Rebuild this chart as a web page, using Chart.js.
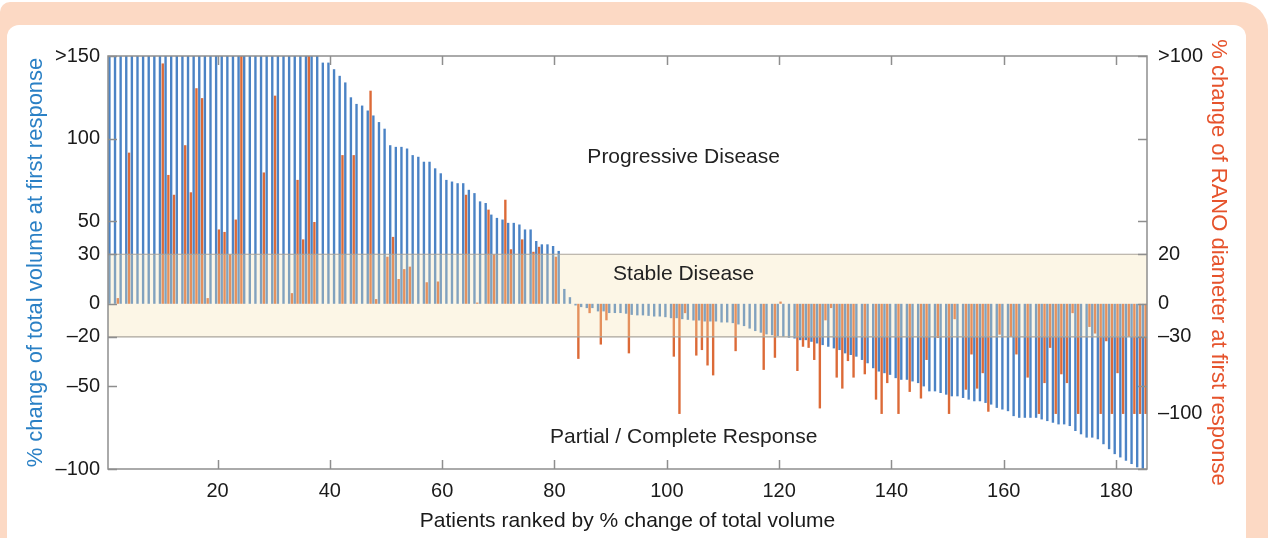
<!DOCTYPE html>
<html>
<head>
<meta charset="utf-8">
<script src="https://cdn.jsdelivr.net/npm/chart.js@4.4.1/dist/chart.umd.min.js"></script>
<style>
  html, body { margin: 0; padding: 0; background: #fff; }
  #page { position: relative; width: 1273px; height: 538px; overflow: hidden; }
  #frame { position: absolute; left: 0; top: 2px; width: 1268px; height: 600px; background: #fcd9c4; border-radius: 10px 28px 0 0; }
  #panel { position: absolute; left: 7px; top: 25px; width: 1239px; height: 600px; background: #fff; border-radius: 12px 12px 0 0; }
  canvas { position: absolute; left: 0; top: 0; }
</style>
</head>
<body>
<div id="page">
  <div id="frame"></div>
  <div id="panel"></div>
  <canvas id="waterfall" width="1273" height="538"></canvas>
</div>
<script>
// patients ranked 1..185 along the x axis
const patients = [];
for (let i = 1; i <= 185; i++) patients.push(i);

const xTicks = [20, 40, 60, 80, 100, 120, 140, 160, 180];
const volumeTicks = [-100, -50, -20, 0, 30, 50, 100, 150];
const ranoTicks = [-100, -30, 0, 20, 100];

// RANO thresholds are lined up with the volume thresholds (piecewise)
const ranoKnots = [-150, -30, 0, 20, 100];
const volumeKnots = [-100, -20, 0, 30, 150];

const stableUpper = 30;
const stableLower = -20;

// % change of total volume (left axis), 150 = ">150"
const volumeChange = [
  150, 150, 150, 150, 150, 150, 150, 150, 150, 150,
  150, 150, 150, 150, 150, 150, 150, 150, 150, 150,
  150, 150, 150, 150, 150, 150, 150, 150, 150, 150,
  150, 150, 150, 150, 150, 150, 150, 150, 146, 146,
  142, 138, 134, 125, 121, 120, 117, 114, 110, 106,
  96, 95, 95, 94, 90, 89, 86, 86, 82, 79,
  75, 74, 73, 73, 69, 67, 62, 61, 54, 52,
  51, 49, 49, 48, 45, 45, 38, 36, 36, 35,
  32, 9, 4, -1, -2, -2.6, -2.6, -4.6, -4.6, -5.6,
  -5.6, -5.6, -6, -6.7, -7, -7, -7.3, -7.7, -7.7, -8.1,
  -8.7, -8.7, -9.3, -9.7, -10.1, -10.1, -10.7, -10.7, -10.7, -11.3,
  -11.3, -11.7, -12.5, -13.5, -15, -16.5, -17.5, -18.5, -19, -19.5,
  -20, -20.5, -21, -22, -22, -23, -24, -25, -26, -27,
  -28, -30, -31, -32, -34, -36, -39, -41, -42, -43,
  -45, -46, -46, -47, -48, -50, -53, -53, -54, -55,
  -56, -56, -57, -58, -59, -59, -60, -61, -63, -64,
  -65, -68, -69, -69, -69, -69, -70, -71, -72, -73,
  -73, -74, -77, -79, -81, -81, -82, -85, -88, -91,
  -93, -95, -97, -99, -100
];

// % change of RANO diameter (right axis), 100 = ">100"
const ranoChange = [
  0, 2.3, 0, 61, 0, 0, 0, 0, 0, 97,
  52, 44, 0, 64, 45, 87, 83, 2.3, 0, 30,
  29, 20, 34, 100, 0, 0, 0, 53, 0, 84,
  0, 0, 4.3, 50, 26, 100, 33, 0, 0, 0,
  0, 60, 0, 60, 0, 0, 86, 1.9, 0, 19,
  27, 10, 14, 15, 0, 0, 8.7, 0, 9, 0,
  0, 0, 0, 44, 0, 0.5, 0, 38, 20, 0,
  42, 22, 0, 26, 0, 21, 23, 0, 0, 19,
  0, 0, 0, -50, 0, -8.5, 0, -37, -15, 0,
  0, 0, -45, 0, 0, 0, 0, 0, 0, 0,
  -48, -100, -8.5, 0, -47, -42, -56, -65, 0, 0,
  0, -43, 0, 0, 0, 0, -60, 0, -49, 0.9,
  0, 0, -61, -39, -40, -51, -95, -15, -3.9, -67,
  -77, -52, -67, 0, -64, 0, -87, -100, -72, 0,
  -100, 0, -80, 0, -86, -51, 0, -31, 0, -100,
  -14, 0, -78, -46, -77, -63, -98, 0, -28, 0,
  -30, -46, 0, -67, 0, -100, -72, -40, -100, -64,
  -72, -8.5, -100, 0, -21, -27, -100, -34, -100, -63,
  -100, -30, -100, -100, -100
];

const regions = [
  { text: 'Progressive Disease', patient: 103, value: 89 },
  { text: 'Stable Disease', patient: 103, value: 18 },
  { text: 'Partial / Complete Response', patient: 103, value: -81 }
];

function interp(v, xs, ys) {
  for (let i = 1; i < xs.length; i++) {
    if (v <= xs[i] || i === xs.length - 1) {
      const t = (v - xs[i - 1]) / (xs[i] - xs[i - 1]);
      return ys[i - 1] + t * (ys[i] - ys[i - 1]);
    }
  }
}

// right axis: linear pieces between the matched thresholds
class RanoScale extends Chart.LinearScale {
  getPixelForValue(value) {
    if (value === null || isNaN(value)) return NaN;
    const vol = interp(value, ranoKnots, volumeKnots);
    const lo = volumeKnots[0], hi = volumeKnots[volumeKnots.length - 1];
    return this.getPixelForDecimal((vol - lo) / (hi - lo));
  }
  getValueForPixel(pixel) {
    const lo = volumeKnots[0], hi = volumeKnots[volumeKnots.length - 1];
    return interp(lo + this.getDecimalForPixel(pixel) * (hi - lo), volumeKnots, ranoKnots);
  }
}
RanoScale.id = 'rano';
Chart.register(RanoScale);

Chart.defaults.font.family = '"Liberation Sans", Arial, sans-serif';
Chart.defaults.color = '#1a1a1a';

const tickLabel = (v, top) => v === top ? '>' + v : (v < 0 ? '\u2013' + Math.abs(v) : String(v));

const overlay = {
  id: 'overlay',
  afterDatasetsDraw(chart) {
    const { ctx, chartArea: a, scales: { y } } = chart;
    const top = y.getPixelForValue(stableUpper);
    const bottom = y.getPixelForValue(stableLower);
    ctx.save();
    ctx.fillStyle = 'rgba(246, 228, 176, 0.32)';
    ctx.fillRect(a.left, top, a.right - a.left, bottom - top);
    ctx.strokeStyle = '#aaa59c';
    ctx.lineWidth = 1.2;
    ctx.beginPath();
    ctx.moveTo(a.left, top); ctx.lineTo(a.right, top);
    ctx.moveTo(a.left, bottom); ctx.lineTo(a.right, bottom);
    ctx.stroke();
    ctx.restore();
  },
  afterDraw(chart) {
    const { ctx, chartArea: a, scales: { x, y } } = chart;
    ctx.save();
    ctx.strokeStyle = '#8e8e8e';
    ctx.lineWidth = 1.5;
    ctx.strokeRect(a.left, a.top, a.right - a.left, a.bottom - a.top);
    ctx.beginPath();
    volumeTicks.forEach(v => {
      const py = Math.round(y.getPixelForValue(v)) + 0.5;
      ctx.moveTo(a.left, py); ctx.lineTo(a.left + 9, py);
      ctx.moveTo(a.right, py); ctx.lineTo(a.right - 9, py);
    });
    xTicks.forEach(t => {
      const px = Math.round(x.getPixelForValue(patients.indexOf(t))) + 0.5;
      ctx.moveTo(px, a.top); ctx.lineTo(px, a.top + 9);
      ctx.moveTo(px, a.bottom); ctx.lineTo(px, a.bottom - 9);
    });
    ctx.stroke();
    ctx.fillStyle = '#222';
    ctx.font = '21px "Liberation Sans", Arial, sans-serif';
    ctx.textAlign = 'center';
    ctx.textBaseline = 'middle';
    regions.forEach(r => {
      ctx.fillText(r.text, x.getPixelForValue(patients.indexOf(r.patient)), y.getPixelForValue(r.value));
    });
    ctx.restore();
  }
};

new Chart(document.getElementById('waterfall'), {
  type: 'bar',
  data: {
    labels: patients,
    datasets: [
      {
        label: '% change of total volume',
        data: volumeChange,
        yAxisID: 'y',
        backgroundColor: '#4b83c5',
        categoryPercentage: 1,
        barPercentage: 0.85
      },
      {
        label: '% change of RANO diameter',
        data: ranoChange,
        yAxisID: 'y2',
        backgroundColor: '#dc6a37',
        categoryPercentage: 1,
        barPercentage: 0.85
      }
    ]
  },
  options: {
    responsive: false,
    animation: false,
    layout: { padding: { left: 20, right: 30, top: 56, bottom: 3 } },
    plugins: { legend: { display: false }, tooltip: { enabled: false } },
    scales: {
      x: {
        type: 'category',
        grid: { display: false, drawTicks: false },
        border: { display: false },
        ticks: {
          autoSkip: false, maxRotation: 0, minRotation: 0, padding: 10,
          font: { size: 20 },
          callback: (v, i) => xTicks.includes(patients[i]) ? String(patients[i]) : ''
        },
        title: {
          display: true, text: 'Patients ranked by % change of total volume',
          font: { size: 21 }, padding: { top: 0, bottom: 1 }
        },
        afterFit: s => { s.height = 66; }
      },
      y: {
        type: 'linear', position: 'left', min: -100, max: 150,
        grid: { display: false, drawTicks: false },
        border: { display: false },
        afterBuildTicks: s => { s.ticks = volumeTicks.map(v => ({ value: v })); },
        ticks: { autoSkip: false, padding: 8, font: { size: 20 }, callback: v => tickLabel(v, 150) },
        title: {
          display: true, text: '% change of total volume at first response',
          color: '#2a80c5', font: { size: 22 }, padding: { top: 3, bottom: 0 }
        },
        afterFit: s => { s.width = 88; }
      },
      y2: {
        type: 'rano', position: 'right', min: -150, max: 100,
        grid: { display: false, drawTicks: false },
        border: { display: false },
        afterBuildTicks: s => { s.ticks = ranoTicks.map(v => ({ value: v })); },
        ticks: { autoSkip: false, padding: 11, font: { size: 20 }, callback: v => tickLabel(v, 100) },
        title: {
          display: true, text: '% change of RANO diameter at first response',
          color: '#e6532c', font: { size: 22 }, padding: { top: 12, bottom: 0 }
        },
        afterFit: s => { s.width = 96; }
      }
    }
  },
  plugins: [overlay]
});
</script>
</body>
</html>
